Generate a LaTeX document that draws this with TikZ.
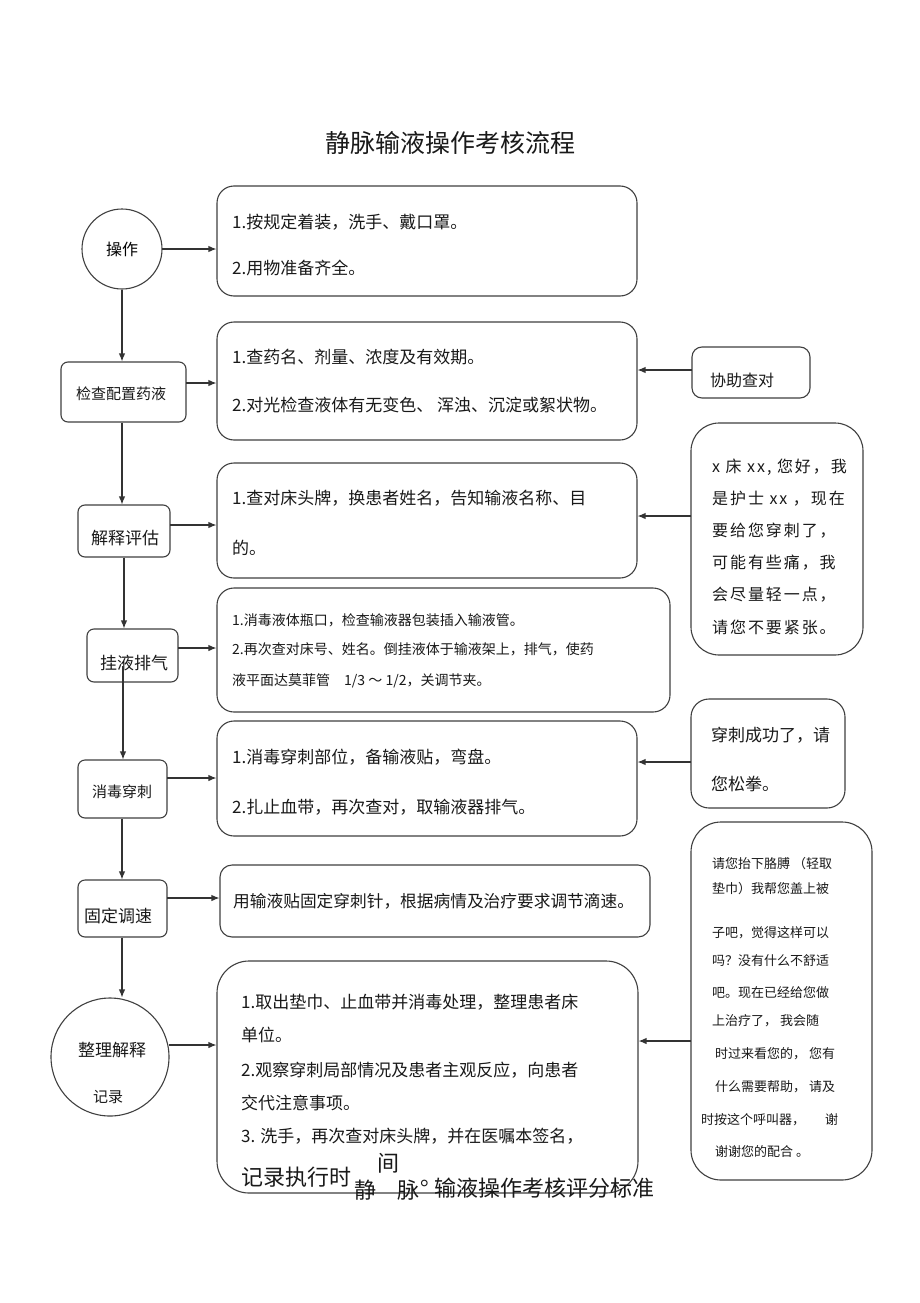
\documentclass[tikz,border=0pt]{standalone}
\usepackage{fontspec}
\setmainfont{Noto Sans CJK SC}
\usetikzlibrary{arrows.meta}
\newcommand\myfs[1]{\fontsize{#1}{#1}\selectfont}
\begin{document}
\begin{tikzpicture}[x=1pt,y=-1pt,
  lc/.style={draw=black!75,line width=1.1pt},
  bigbox/.style={lc,rounded corners=17pt,inner sep=0pt},
  smallbox/.style={lc,rounded corners=7pt,inner sep=0pt},
  arr/.style={black!80,line width=1.2pt,-{Latex[length=8pt,width=6.5pt]}},
  txt/.style={anchor=west,inner sep=0pt,text=black!90},
  ctxt/.style={inner sep=0pt,text=black!90}]
\fill[white] (0,0) rectangle (920,1303);
\useasboundingbox (0,0) rectangle (920,1303);

% title
\node[ctxt] (title) at (450,143) {\myfs{25}静脉输液操作考核流程};

% left column
\node[lc,circle,minimum size=80pt,inner sep=0pt] (op) at (122,249) {\myfs{16}操作};
\node[smallbox,minimum width=125pt,minimum height=60pt] (s2) at (123.5,392) {};
\node[ctxt] (s2t) at (121,394) {\myfs{15}检查配置药液};
\node[smallbox,minimum width=92pt,minimum height=52pt] (s3) at (124,531) {};
\node[ctxt] (s3t) at (125,538) {\myfs{17}解释评估};
\node[smallbox,minimum width=91pt,minimum height=53pt] (s4) at (132.5,655.5) {};
\node[ctxt] (s4t) at (134,663) {\myfs{17}挂液排气};
\node[smallbox,minimum width=89pt,minimum height=58pt] (s5) at (122.5,789) {};
\node[ctxt] (s5t) at (122,792) {\myfs{15}消毒穿刺};
\node[smallbox,minimum width=89pt,minimum height=57pt] (s6) at (122.5,908.5) {};
\node[ctxt] (s6t) at (118,916) {\myfs{17}固定调速};
\node[lc,circle,minimum size=118pt,inner sep=0pt] (c7) at (110,1057) {};
\node[ctxt] (c7a) at (112,1050) {\myfs{17}整理解释};
\node[ctxt] (c7b) at (108,1097) {\myfs{15}记录};

% middle boxes
\node[bigbox,minimum width=420pt,minimum height=110pt] (b1) at (427,241) {};
\node[txt] (b1a) at (232,222) {\myfs{17}1.按规定着装，洗手、戴口罩。};
\node[txt] (b1b) at (232,268) {\myfs{17}2.用物准备齐全。};

\node[bigbox,minimum width=420pt,minimum height=118pt] (b2) at (427,381) {};
\node[txt] (b2a) at (232,357) {\myfs{17}1.查药名、剂量、浓度及有效期。};
\node[txt] (b2b) at (232,405) {\myfs{17}2.对光检查液体有无变色、 浑浊、沉淀或絮状物。};

\node[bigbox,minimum width=420pt,minimum height=115pt] (b3) at (427,520.5) {};
\node[txt] (b3a) at (232,498) {\myfs{17}1.查对床头牌，换患者姓名，告知输液名称、目};
\node[txt] (b3b) at (232,548) {\myfs{17}的。};

\node[bigbox,minimum width=453pt,minimum height=124pt] (b4) at (443.5,650) {};
\node[txt] (b4a) at (232,620) {\myfs{14}1.消毒液体瓶口，检查输液器包装插入输液管。};
\node[txt] (b4b) at (232,649) {\myfs{14}2.再次查对床号、姓名。倒挂液体于输液架上，排气，使药};
\node[txt] (b4c) at (232,681) {\myfs{14}液平面达莫菲管\hspace{14pt}1/3 ～ 1/2，关调节夹。};

\node[bigbox,minimum width=420pt,minimum height=115pt] (b5) at (427,778.5) {};
\node[txt] (b5a) at (232,757) {\myfs{17}1.消毒穿刺部位，备输液贴，弯盘。};
\node[txt] (b5b) at (232,807) {\myfs{17}2.扎止血带，再次查对，取输液器排气。};

\node[bigbox,rounded corners=12pt,minimum width=430pt,minimum height=72pt] (b6) at (435,901) {};
\node[txt] (b6a) at (233,901) {\myfs{16.7}用输液贴固定穿刺针，根据病情及治疗要求调节滴速。};

\node[bigbox,rounded corners=32pt,minimum width=421pt,minimum height=232pt] (b7) at (427.5,1077) {};
\node[txt] (b7a) at (241,1002) {\myfs{17}1.取出垫巾、止血带并消毒处理，整理患者床};
\node[txt] (b7b) at (241,1035) {\myfs{17}单位。};
\node[txt] (b7c) at (241,1070) {\myfs{17}2.观察穿刺局部情况及患者主观反应，向患者};
\node[txt] (b7d) at (241,1103) {\myfs{17}交代注意事项。};
\node[txt] (b7e) at (241,1136) {\myfs{17}3. 洗手，再次查对床头牌，并在医嘱本签名，};
\node[txt] (b7f) at (241,1177) {\myfs{22}记录执行时};
\node[ctxt] (e2) at (365,1190) {\myfs{22}静};
\node[ctxt] (e3) at (388,1163) {\myfs{22}间};
\node[ctxt] (e4) at (408,1190) {\myfs{22}脉};
\node[txt] (e5) at (420,1183) {\myfs{22}\makebox[11pt][l]{。}};
\node[txt] (e6) at (434,1188) {\myfs{22}输液操作考核评分标准};

% right boxes
\node[smallbox,rounded corners=10pt,minimum width=118pt,minimum height=51pt] (r1) at (751,372.5) {};
\node[txt] (r1t) at (710,380) {\myfs{16}协助查对};

\node[bigbox,rounded corners=28pt,minimum width=172pt,minimum height=232pt] (r2) at (777,539) {};
\foreach \t [count=\i] in {{x 床 xx, 您好，我},{是护士 xx ，现在},{要给您穿刺了，},{可能有些痛，我},{会尽量轻一点，},{请您不要紧张。}}
  \node[txt] (r2t\i) at (712,435+32*\i) {\myfs{16}\addfontfeature{LetterSpace=12}\t};

\node[bigbox,rounded corners=18pt,minimum width=154pt,minimum height=109pt] (r3) at (768,753.5) {};
\node[txt] (r3a) at (711,735) {\myfs{17}穿刺成功了，请};
\node[txt] (r3b) at (711,784) {\myfs{17}您松拳。};

\node[bigbox,rounded corners=30pt,minimum width=181pt,minimum height=358pt] (r4) at (781.5,1001) {};
\node[txt] (r4a) at (712,864) {\myfs{13}请您抬下胳膊 （轻取};
\node[txt] (r4b) at (712,889) {\myfs{13}垫巾）我帮您盖上被};
\node[txt] (r4c) at (712,933) {\myfs{13}子吧，觉得这样可以};
\node[txt] (r4d) at (712,961) {\myfs{13}吗？没有什么不舒适};
\node[txt] (r4e) at (712,993) {\myfs{13}吧。现在已经给您做};
\node[txt] (r4f) at (712,1021) {\myfs{13}上治疗了， 我会随};
\node[txt] (r4g) at (715,1054) {\myfs{13}时过来看您的， 您有};
\node[txt] (r4h) at (715,1087) {\myfs{13}什么需要帮助， 请及};
\node[txt] (r4i) at (701,1120) {\myfs{13}时按这个呼叫器，\hspace{20pt}谢};
\node[txt] (r4j) at (715,1152) {\myfs{13}谢谢您的配合 。};

% connector anchors
\coordinate (h1) at (162,249);
\coordinate (h2) at (186,383);
\coordinate (h3) at (170,525);
\coordinate (h4) at (178,648);
\coordinate (h5) at (167,778);
\coordinate (h6) at (167,898);
\coordinate (h7) at (169,1045);
\coordinate (g1) at (692,370);
\coordinate (g2) at (691,516);
\coordinate (g3) at (691,762);
\coordinate (g4) at (691,1041);
\coordinate (v4) at (123,666);

% horizontal arrows into middle boxes
\draw[arr] (h1) -- (h1 -| b1.west);
\draw[arr] (h2) -- (h2 -| b2.west);
\draw[arr] (h3) -- (h3 -| b3.west);
\draw[arr] (h4) -- (h4 -| b4.west);
\draw[arr] (h5) -- (h5 -| b5.west);
\draw[arr] (h6) -- (h6 -| b6.west);
\draw[arr] (h7) -- (h7 -| b7.west);

% arrows from right boxes
\draw[arr] (g1) -- (g1 -| b2.east);
\draw[arr] (g2) -- (g2 -| b3.east);
\draw[arr] (g3) -- (g3 -| b5.east);
\draw[arr] (g4) -- (g4 -| b7.east);

% vertical arrows
\draw[arr] (op.south) -- (op.south |- s2.north);
\draw[arr] (s2.south -| op.south) -- (op.south |- s3.north);
\draw[arr] (s3.south) -- (s3.south |- s4.north);
\draw[arr] (v4) -- (v4 |- s5.north);
\draw[arr] (s5.south -| op.south) -- (op.south |- s6.north);
\draw[arr] (s6.south -| op.south) -- (op.south |- c7.north);
\end{tikzpicture}
\end{document}
